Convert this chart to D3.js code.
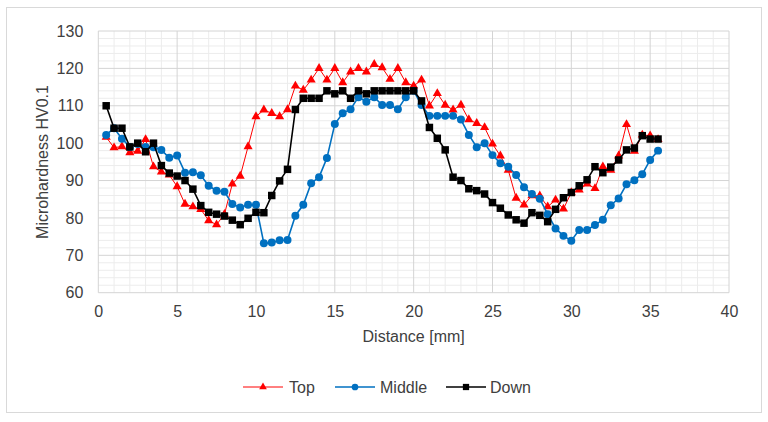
<!DOCTYPE html>
<html>
<head>
<meta charset="utf-8">
<script src="https://cdn.jsdelivr.net/npm/d3@7"></script>
<style>
  html, body { margin: 0; padding: 0; background: #fff; }
  svg { display: block; }
  text { font-family: "Liberation Sans", Arial, sans-serif; }
</style>
</head>
<body>
<svg id="chart" width="768" height="422"></svg>
<script>
// ---------- data ----------
const distance = [0.5,1,1.5,2,2.5,3,3.5,4,4.5,5,5.5,6,6.5,7,7.5,8,8.5,9,9.5,10,
  10.5,11,11.5,12,12.5,13,13.5,14,14.5,15,15.5,16,16.5,17,17.5,18,18.5,19,19.5,20,
  20.5,21,21.5,22,22.5,23,23.5,24,24.5,25,25.5,26,26.5,27,27.5,28,28.5,29,29.5,30,
  30.5,31,31.5,32,32.5,33,33.5,34,34.5,35,35.5];

const topValues = [101.6,98.8,99.1,97.5,97.9,101,93.7,92.3,91.5,88.4,83.7,83,82.3,79.3,78.2,81,89.1,91.2,99.1,107.1,
  108.9,108,107.1,109,115.3,114.2,116.9,120,116.9,120,116.2,119.1,120,119.1,121.1,120.2,117.1,120,116.2,115.3,
  116.9,110,113.3,110.2,108.9,110.2,106.3,105.3,104.2,99.8,96.6,92.8,85.3,83.5,86,85.9,83,84.8,82.4,86.8,
  87.5,89.1,87.9,93.7,92.8,96.6,105,97.9,102.2,102,101];

const middleValues = [102.2,104,101.2,99,99.8,99,98.9,98.2,96.1,96.7,92.1,92.2,91.4,88.6,87.3,87,83.7,82.8,83.5,83.5,
  73.2,73.4,74,74.1,80.6,83.5,89.3,90.9,96,105.1,108,109.1,112.3,111.1,112.3,110.2,110.2,109.1,112.3,114,
  110.2,107.3,107.3,107.3,107.3,106.3,102.2,98.9,100,96.8,94.6,93.7,91.5,88.2,86.4,85.1,81,77.2,75.2,73.9,
  76.8,76.8,78.1,79.5,83.4,85.2,89,90.1,91.7,95.5,98];

const downValues = [110,104,104,99,100,97.7,100,94,92,91.2,90,87.7,83.3,81.5,81,80.5,79.4,78.2,79.9,81.5,
  81.4,86,89.9,93,109,112,112,112,114,113.2,114,112,114,113.2,114,114,114,114,114,114,
  111.3,104.2,101.3,98.2,90.9,90,87.8,87.3,86.4,84.1,82.6,80.8,79.5,78.6,81.4,80.7,79,82.3,85.4,86.8,
  88.6,90.2,93.7,92.1,93.6,95.5,98.2,98.7,102,101.1,101.1];

const seriesNames = ["Top", "Middle", "Down"];
const xTicks = [0,5,10,15,20,25,30,35,40];
const yTicks = [60,70,80,90,100,110,120,130];

// ---------- layout ----------
const svg = d3.select("#chart");
const W = 768, H = 422;
const plot = { left: 98.3, right: 729, top: 31, bottom: 292.7 };

svg.append("rect").attr("x", 0).attr("y", 0).attr("width", W).attr("height", H).attr("fill", "#fff");
svg.append("rect").attr("x", 6.5).attr("y", 7.5).attr("width", 755).attr("height", 405)
  .attr("fill", "#fff").attr("stroke", "#d9d9d9").attr("stroke-width", 1);

const x = d3.scaleLinear().domain([0, 40]).range([plot.left, plot.right]);
const y = d3.scaleLinear().domain([60, 130]).range([plot.bottom, plot.top]);

// grid
const grid = svg.append("g");
const minorX = d3.range(0, 41, 1).filter(v => v % 5 !== 0);
const minorY = d3.range(60, 131, 2).filter(v => v % 10 !== 0);
grid.selectAll(".mx").data(minorX).join("line")
  .attr("x1", d => x(d)).attr("x2", d => x(d)).attr("y1", plot.top).attr("y2", plot.bottom)
  .attr("stroke", "#ececec").attr("stroke-width", 1);
grid.selectAll(".my").data(minorY).join("line")
  .attr("y1", d => y(d)).attr("y2", d => y(d)).attr("x1", plot.left).attr("x2", plot.right)
  .attr("stroke", "#ececec").attr("stroke-width", 1);
grid.selectAll(".MX").data(xTicks).join("line")
  .attr("x1", d => x(d)).attr("x2", d => x(d)).attr("y1", plot.top).attr("y2", plot.bottom)
  .attr("stroke", "#d4d4d4").attr("stroke-width", 1);
grid.selectAll(".MY").data(yTicks).join("line")
  .attr("y1", d => y(d)).attr("y2", d => y(d)).attr("x1", plot.left).attr("x2", plot.right)
  .attr("stroke", "#d4d4d4").attr("stroke-width", 1);

// axes labels via d3 axes
const xAxis = d3.axisBottom(x).tickValues(xTicks).tickSize(0).tickPadding(13);
const gx = svg.append("g").attr("transform", `translate(0,${plot.bottom})`).call(xAxis);
gx.select(".domain").remove();
gx.selectAll("text").attr("font-size", 16).attr("fill", "#404040")
  .attr("font-family", "Liberation Sans, Arial, sans-serif");

const yAxis = d3.axisLeft(y).tickValues(yTicks).tickSize(0).tickPadding(15);
const gy = svg.append("g").attr("transform", `translate(${plot.left},0)`).call(yAxis);
gy.select(".domain").remove();
gy.selectAll("text").attr("font-size", 16).attr("fill", "#404040")
  .attr("font-family", "Liberation Sans, Arial, sans-serif");

// axis titles
svg.append("text").attr("x", x(20)).attr("y", 342).attr("text-anchor", "middle")
  .attr("font-size", 16).attr("fill", "#404040").text("Distance [mm]");
svg.append("text").attr("transform", "translate(48,162) rotate(-90)").attr("text-anchor", "middle")
  .attr("font-size", 16).attr("fill", "#404040").text("Microhardness HV0.1");

// series
const series = [
  { name: seriesNames[0], values: topValues, color: "#ff0000", width: 1, shape: d3.symbolTriangle, size: 36 },
  { name: seriesNames[1], values: middleValues, color: "#0070c0", width: 1.6, shape: d3.symbolCircle, size: 50 },
  { name: seriesNames[2], values: downValues, color: "#000000", width: 1.6, shape: d3.symbolSquare, size: 56 }
];

const line = d3.line().x(d => x(d[0])).y(d => y(d[1]));
series.forEach(s => {
  const pts = distance.map((d, i) => [d, s.values[i]]);
  svg.append("path").datum(pts).attr("d", line)
    .attr("fill", "none").attr("stroke", s.color).attr("stroke-width", s.width);
  svg.append("g").selectAll("path").data(pts).join("path")
    .attr("transform", d => `translate(${x(d[0])},${y(d[1])})`)
    .attr("d", d3.symbol().type(s.shape).size(s.size))
    .attr("fill", s.color);
});

// legend
const legendItems = [
  { s: series[0], lx: 243, tx: 289 },
  { s: series[1], lx: 335, tx: 380 },
  { s: series[2], lx: 446, tx: 490 }
];
const ly = 387;
const lg = svg.append("g");
legendItems.forEach(it => {
  lg.append("line").attr("x1", it.lx).attr("x2", it.lx + 40).attr("y1", ly).attr("y2", ly)
    .attr("stroke", it.s.color).attr("stroke-width", it.s.width);
  lg.append("path").attr("transform", `translate(${it.lx + 20},${ly})`)
    .attr("d", d3.symbol().type(it.s.shape).size(it.s.size * 0.7)).attr("fill", it.s.color);
  lg.append("text").attr("x", it.tx).attr("y", ly + 6).attr("font-size", 16)
    .attr("fill", "#404040").text(it.s.name);
});
</script>
</body>
</html>
